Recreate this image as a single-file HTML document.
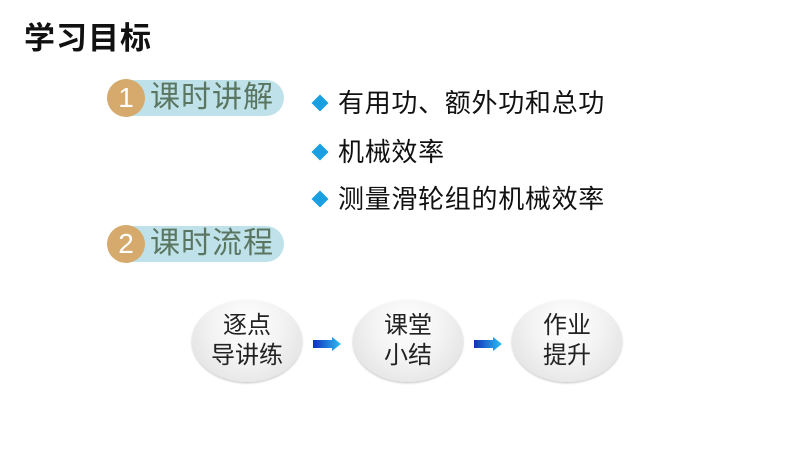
<!DOCTYPE html>
<html><head><meta charset="utf-8"><style>
body{margin:0;width:800px;height:450px;background:#fff;position:relative;overflow:hidden;font-family:"Liberation Sans","Noto Sans CJK SC",sans-serif}
.a{position:absolute;white-space:nowrap}
.pill{position:absolute;left:112px;width:172px;height:36px;border-radius:18px;background:#bfe2ea}
.num{position:absolute;left:107px;width:38px;height:38px;border-radius:50%;background:#d5aa6c;color:#fff;font-size:28px;line-height:38px;text-align:center}
.pt{position:absolute;left:150px;font-size:30px;color:#5a7560;line-height:36px;letter-spacing:1px}
.dia{position:absolute;left:314px;width:12px;height:12px;background:#1aa0e0;transform:rotate(45deg)}
.bt{position:absolute;left:338px;font-size:26px;color:#111;line-height:30px;letter-spacing:0.7px}
.el{position:absolute;width:110px;height:82px;border-radius:50%;background:radial-gradient(ellipse at 50% 30%,#ffffff 0%,#f3f3f3 45%,#dcdcdc 100%);box-shadow:0 1px 2px rgba(0,0,0,.25);text-align:center;font-size:24px;line-height:30px;color:#222;display:flex;align-items:center;justify-content:center}
.ar{position:absolute;width:28px;height:14px}
</style></head><body>
<div class="a" style="left:24px;top:13px;font-size:31px;font-weight:bold;color:#111;letter-spacing:1px">学习目标</div>
<div class="pill" style="top:80px"></div><div class="num" style="top:79px">1</div><div class="pt" style="top:80px">课时讲解</div>
<div class="pill" style="top:226px"></div><div class="num" style="top:225px">2</div><div class="pt" style="top:226px">课时流程</div>
<div class="dia" style="top:97px"></div><div class="bt" style="top:88px">有用功、额外功和总功</div>
<div class="dia" style="top:146px"></div><div class="bt" style="top:137px">机械效率</div>
<div class="dia" style="top:193px"></div><div class="bt" style="top:184px">测量滑轮组的机械效率</div>
<div class="el" style="left:192px;top:300px">逐点<br>导讲练</div>
<div class="el" style="left:353px;top:300px">课堂<br>小结</div>
<div class="el" style="left:512px;top:300px">作业<br>提升</div>
<svg class="ar" style="left:313px;top:337px" viewBox="0 0 28 14"><defs><linearGradient id="g" x1="0" x2="1"><stop offset="0" stop-color="#1030c0"/><stop offset="1" stop-color="#30c0f0"/></linearGradient></defs><path d="M0 3H19V0L28 7L19 14V11H0Z" fill="url(#g)"/></svg>
<svg class="ar" style="left:474px;top:337px" viewBox="0 0 28 14"><path d="M0 3H19V0L28 7L19 14V11H0Z" fill="url(#g)"/></svg>
</body></html>
